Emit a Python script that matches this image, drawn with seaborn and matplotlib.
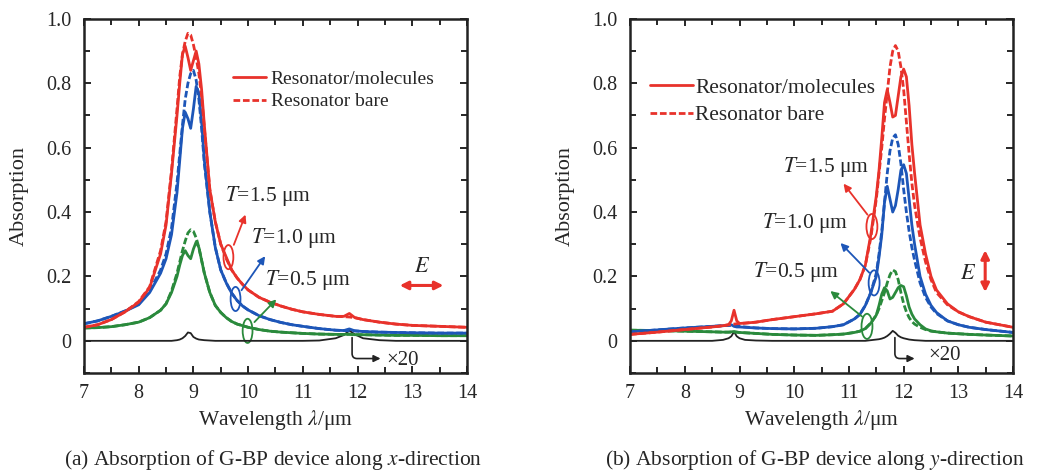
#!/usr/bin/env python3
"""Absorption spectra of the G-BP device along x and y directions (two panels)."""
import matplotlib
matplotlib.use("Agg")
import matplotlib.pyplot as plt
import seaborn as sns
from matplotlib.lines import Line2D
from matplotlib.patches import Ellipse
from matplotlib.ticker import MultipleLocator

# ---- panel (a): x-direction -------------------------------------------------
wl_a = [7.0, 7.25, 7.5, 7.75, 8.0, 8.2, 8.4, 8.5, 8.6, 8.7, 8.75, 8.8, 8.85, 8.9,
        8.95, 9.0, 9.05, 9.1, 9.15, 9.2, 9.3, 9.4, 9.5, 9.6, 9.7, 9.8, 9.9, 10.0,
        10.2, 10.4, 10.6, 10.8, 11.0, 11.3, 11.6, 11.75, 11.85, 11.95, 12.1, 12.4,
        12.7, 13.0, 13.5, 14.0]
red_mol_a = [0.042, 0.050, 0.066, 0.090, 0.120, 0.165, 0.27, 0.36, 0.52, 0.70, 0.80, 0.89,
             0.915, 0.88, 0.84, 0.87, 0.90, 0.86, 0.78, 0.67, 0.47, 0.37, 0.30, 0.26, 0.22,
             0.195, 0.175, 0.158, 0.135, 0.12, 0.108, 0.098, 0.09, 0.082, 0.076, 0.076,
             0.085, 0.072, 0.066, 0.058, 0.052, 0.048, 0.045, 0.042]
red_bare_a = [0.042, 0.050, 0.066, 0.090, 0.122, 0.168, 0.28, 0.37, 0.53, 0.72, 0.82, 0.89,
              0.93, 0.955, 0.95, 0.92, 0.88, 0.83, 0.76, 0.66, 0.47, 0.37, 0.30, 0.255, 0.22,
              0.195, 0.175, 0.158, 0.135, 0.12, 0.108, 0.098, 0.09, 0.082, 0.076, 0.075,
              0.074, 0.072, 0.066, 0.058, 0.052, 0.048, 0.045, 0.042]
blue_mol_a = [0.053, 0.062, 0.076, 0.092, 0.112, 0.15, 0.21, 0.255, 0.33, 0.46, 0.56, 0.66,
              0.71, 0.69, 0.66, 0.72, 0.79, 0.77, 0.68, 0.56, 0.40, 0.29, 0.22, 0.18, 0.148,
              0.125, 0.108, 0.096, 0.078, 0.066, 0.057, 0.05, 0.045, 0.038, 0.033, 0.032,
              0.037, 0.031, 0.029, 0.027, 0.026, 0.025, 0.024, 0.024]
blue_bare_a = [0.053, 0.062, 0.076, 0.093, 0.114, 0.155, 0.22, 0.27, 0.35, 0.49, 0.58, 0.67,
               0.75, 0.80, 0.83, 0.84, 0.81, 0.75, 0.66, 0.55, 0.40, 0.29, 0.22, 0.18, 0.148,
               0.125, 0.108, 0.096, 0.078, 0.066, 0.057, 0.05, 0.045, 0.038, 0.033, 0.032,
               0.031, 0.031, 0.029, 0.027, 0.026, 0.025, 0.024, 0.024]
green_mol_a = [0.04, 0.041, 0.044, 0.05, 0.058, 0.072, 0.095, 0.115, 0.15, 0.2, 0.235, 0.265,
               0.28, 0.265, 0.255, 0.285, 0.307, 0.29, 0.25, 0.21, 0.15, 0.11, 0.088, 0.072,
               0.06, 0.052, 0.047, 0.042, 0.035, 0.03, 0.027, 0.025, 0.023, 0.021, 0.02, 0.02,
               0.021, 0.019, 0.019, 0.018, 0.017, 0.017, 0.016, 0.016]
green_bare_a = [0.04, 0.041, 0.044, 0.05, 0.058, 0.072, 0.095, 0.115, 0.155, 0.21, 0.245, 0.28,
                0.31, 0.335, 0.345, 0.34, 0.32, 0.29, 0.25, 0.21, 0.15, 0.11, 0.088, 0.072,
                0.06, 0.052, 0.047, 0.042, 0.035, 0.03, 0.027, 0.025, 0.023, 0.021, 0.02, 0.02,
                0.02, 0.019, 0.019, 0.018, 0.017, 0.017, 0.016, 0.016]
mol_x20_a = [0, 0, 0, 0, 0, 0, 0, 0, 0, 0.002, 0.004, 0.008, 0.015, 0.026, 0.024, 0.012,
             0.007, 0.004, 0.003, 0.002, 0.001, 0, 0, 0, 0, 0, 0, 0, 0, 0, 0, 0, 0, 0.001,
             0.008, 0.018, 0.032, 0.02, 0.008, 0.002, 0, 0, 0, 0]

# ---- panel (b): y-direction -------------------------------------------------
wl_b = [7.0, 7.5, 8.0, 8.5, 8.7, 8.8, 8.85, 8.9, 8.95, 9.0, 9.1, 9.3, 9.6, 10.0, 10.4,
        10.7, 10.9, 11.1, 11.2, 11.3, 11.4, 11.5, 11.55, 11.6, 11.65, 11.7, 11.75, 11.8,
        11.85, 11.9, 11.95, 12.0, 12.05, 12.1, 12.15, 12.2, 12.3, 12.4, 12.5, 12.6, 12.8,
        13.0, 13.2, 13.5, 14.0]
red_mol_b = [0.02, 0.027, 0.035, 0.043, 0.047, 0.05, 0.062, 0.095, 0.062, 0.054, 0.055,
             0.058, 0.066, 0.075, 0.084, 0.092, 0.115, 0.16, 0.19, 0.235, 0.33, 0.45, 0.53,
             0.63, 0.74, 0.78, 0.74, 0.695, 0.70, 0.76, 0.82, 0.844, 0.82, 0.73, 0.61, 0.52,
             0.36, 0.27, 0.2, 0.158, 0.115, 0.09, 0.075, 0.058, 0.042]
red_bare_b = [0.02, 0.027, 0.035, 0.043, 0.047, 0.05, 0.051, 0.052, 0.053, 0.054, 0.055,
              0.058, 0.066, 0.075, 0.084, 0.092, 0.115, 0.16, 0.19, 0.235, 0.32, 0.44, 0.52,
              0.60, 0.69, 0.77, 0.85, 0.90, 0.917, 0.90, 0.85, 0.78, 0.68, 0.58, 0.49, 0.42,
              0.32, 0.245, 0.19, 0.15, 0.112, 0.09, 0.075, 0.058, 0.042]
blue_mol_b = [0.028, 0.034, 0.04, 0.045, 0.047, 0.048, 0.05, 0.045, 0.043, 0.043, 0.042,
              0.04, 0.038, 0.037, 0.039, 0.044, 0.05, 0.068, 0.082, 0.11, 0.15, 0.2, 0.26,
              0.33, 0.43, 0.48, 0.44, 0.40, 0.42, 0.47, 0.53, 0.547, 0.52, 0.44, 0.36, 0.3,
              0.2, 0.145, 0.11, 0.088, 0.062, 0.05, 0.042, 0.035, 0.026]
blue_bare_b = [0.028, 0.034, 0.04, 0.045, 0.047, 0.048, 0.048, 0.047, 0.046, 0.045, 0.043,
               0.04, 0.038, 0.037, 0.039, 0.044, 0.05, 0.068, 0.082, 0.11, 0.15, 0.21, 0.27,
               0.34, 0.43, 0.52, 0.59, 0.63, 0.64, 0.61, 0.55, 0.47, 0.40, 0.34, 0.29, 0.25,
               0.18, 0.135, 0.105, 0.085, 0.062, 0.05, 0.042, 0.035, 0.026]
green_mol_b = [0.033, 0.032, 0.03, 0.028, 0.027, 0.027, 0.028, 0.029, 0.027, 0.026, 0.025,
               0.023, 0.02, 0.018, 0.017, 0.019, 0.021, 0.026, 0.03, 0.038, 0.055, 0.08, 0.11,
               0.145, 0.165, 0.155, 0.13, 0.135, 0.15, 0.165, 0.172, 0.168, 0.14, 0.105, 0.083,
               0.068, 0.05, 0.037, 0.031, 0.028, 0.024, 0.022, 0.02, 0.018, 0.015]
green_bare_b = [0.033, 0.032, 0.03, 0.028, 0.027, 0.027, 0.027, 0.027, 0.027, 0.026, 0.025,
                0.023, 0.02, 0.018, 0.017, 0.019, 0.021, 0.026, 0.03, 0.038, 0.055, 0.08, 0.1,
                0.125, 0.15, 0.18, 0.205, 0.22, 0.215, 0.19, 0.15, 0.115, 0.09, 0.072, 0.06,
                0.052, 0.042, 0.035, 0.03, 0.028, 0.024, 0.022, 0.02, 0.018, 0.015]
mol_x20_b = [0, 0, 0, 0, 0.003, 0.008, 0.014, 0.028, 0.014, 0.008, 0.003, 0.001, 0, 0, 0,
             0, 0, 0, 0, 0, 0.002, 0.004, 0.005, 0.007, 0.01, 0.015, 0.022, 0.031, 0.025,
             0.016, 0.011, 0.008, 0.006, 0.004, 0.003, 0.002, 0.001, 0, 0, 0, 0, 0, 0, 0, 0]

RED = "#e8322b"
BLUE = "#1d56b8"
GREEN = "#2a8a3c"
INK = "#222222"
DASH = (0, (2.4, 1.0))
SERIF = "Liberation Serif"


def draw_curves(ax, wl, series):
    for vals, color, ls, lw in series:
        sns.lineplot(x=wl, y=vals, ax=ax, color=color, linestyle=ls, linewidth=lw,
                     estimator=None, sort=False, legend=False)


def style_axes(ax):
    ax.set_xlim(7, 14)
    ax.set_ylim(-0.1, 1.0)
    ax.xaxis.set_major_locator(MultipleLocator(1))
    ax.xaxis.set_minor_locator(MultipleLocator(0.5))
    ax.yaxis.set_minor_locator(MultipleLocator(0.1))
    ax.set_yticks([0, 0.2, 0.4, 0.6, 0.8, 1.0])
    ax.set_yticklabels(["0", "0.2", "0.4", "0.6", "0.8", "1.0"])
    ax.tick_params(which="both", direction="in", top=True, right=True, width=1.4,
                   labelsize=14.5)
    ax.tick_params(axis="x", pad=8)
    ax.tick_params(axis="y", pad=9)
    ax.tick_params(which="major", length=5)
    ax.tick_params(which="minor", length=4)
    for sp in ax.spines.values():
        sp.set_linewidth(1.8)
        sp.set_color(INK)
    ax.set_xlabel("Wavelength $\\lambda$/μm", fontsize=15.5)
    ax.set_ylabel("Absorption", fontsize=16)
    ax.xaxis.set_label_coords(0.5, -0.1)
    ax.yaxis.set_label_coords(-0.145, 0.5)


def annotate(ax, label, txt_xy, tail, head, ell_xy, ell_wh, color):
    ax.add_patch(Ellipse(ell_xy, ell_wh[0], ell_wh[1], fill=False, edgecolor=color, lw=1.3))
    ax.annotate("", xy=head, xytext=tail,
                arrowprops=dict(arrowstyle="-|>", color=color, lw=1.3, mutation_scale=11))
    ax.text(txt_xy[0], txt_xy[1], label, fontsize=15.5, ha="left", va="center")


def times20(ax, start, end, txt_xy):
    ax.annotate("", xy=end, xytext=start,
                arrowprops=dict(arrowstyle="-|>", color=INK, lw=1.2, mutation_scale=10,
                                shrinkA=0, shrinkB=0,
                                connectionstyle="angle,angleA=90,angleB=0,rad=5"))
    ax.text(txt_xy[0], txt_xy[1], "×20", fontsize=15, ha="left", va="center")


def main():
    sns.set_style("ticks")
    plt.rcParams["font.family"] = [SERIF, "DejaVu Serif"]
    plt.rcParams["mathtext.fontset"] = "stix"

    fig = plt.figure(figsize=(10.38, 4.71), dpi=100)
    ax_a = fig.add_axes([0.0809, 0.208, 0.369, 0.752])
    ax_b = fig.add_axes([0.607, 0.208, 0.369, 0.752])

    draw_curves(ax_a, wl_a, [
        (mol_x20_a, INK, "-", 1.3),
        (green_bare_a, GREEN, DASH, 2.0), (green_mol_a, GREEN, "-", 2.0),
        (blue_bare_a, BLUE, DASH, 2.0), (blue_mol_a, BLUE, "-", 2.0),
        (red_bare_a, RED, DASH, 2.0), (red_mol_a, RED, "-", 2.0),
    ])
    draw_curves(ax_b, wl_b, [
        (mol_x20_b, INK, "-", 1.3),
        (green_bare_b, GREEN, DASH, 2.0), (green_mol_b, GREEN, "-", 2.0),
        (blue_bare_b, BLUE, DASH, 2.0), (blue_mol_b, BLUE, "-", 2.0),
        (red_bare_b, RED, DASH, 2.0), (red_mol_b, RED, "-", 2.0),
    ])
    for ax in (ax_a, ax_b):
        style_axes(ax)

    handles = [Line2D([], [], color=RED, lw=2.0),
               Line2D([], [], color=RED, lw=2.0, linestyle=DASH)]
    labels = ["Resonator/molecules", "Resonator bare"]
    ax_a.legend(handles, labels, loc="center left", bbox_to_anchor=(0.389, 0.798),
                frameon=False, fontsize=14, handlelength=1.7, handletextpad=0.25,
                labelspacing=0.25, borderpad=0, borderaxespad=0)
    ax_b.legend(handles, labels, loc="center left", bbox_to_anchor=(0.052, 0.766),
                frameon=False, fontsize=15.4, handlelength=2.0, handletextpad=0.12,
                labelspacing=0.35, borderpad=0, borderaxespad=0)

    # panel (a) annotations
    annotate(ax_a, "$T$=1.5 μm", (9.58, 0.45), (9.72, 0.29), (9.97, 0.40),
             (9.64, 0.26), (0.18, 0.075), RED)
    annotate(ax_a, "$T$=1.0 μm", (10.06, 0.318), (9.85, 0.15), (10.34, 0.27),
             (9.77, 0.13), (0.18, 0.075), BLUE)
    annotate(ax_a, "$T$=0.5 μm", (10.31, 0.19), (10.08, 0.052), (10.55, 0.135),
             (9.99, 0.031), (0.18, 0.075), GREEN)
    ax_a.text(13.17, 0.227, "$E$", fontsize=16, ha="center", va="center")
    ax_a.annotate("", xy=(13.62, 0.172), xytext=(12.72, 0.172),
                  arrowprops=dict(arrowstyle="<|-|>", color=RED, lw=2.2, mutation_scale=12))
    times20(ax_a, (11.9, 0.01), (12.42, -0.055), (12.52, -0.06))

    # panel (b) annotations
    annotate(ax_b, "$T$=1.5 μm", (9.8, 0.54), (11.37, 0.385), (10.87, 0.495),
             (11.42, 0.355), (0.2, 0.078), RED)
    annotate(ax_b, "$T$=1.0 μm", (9.41, 0.367), (11.41, 0.205), (10.81, 0.31),
             (11.46, 0.18), (0.2, 0.078), BLUE)
    annotate(ax_b, "$T$=0.5 μm", (9.25, 0.213), (11.28, 0.07), (10.62, 0.16),
             (11.33, 0.045), (0.2, 0.078), GREEN)
    ax_b.text(13.18, 0.206, "$E$", fontsize=16, ha="center", va="center")
    ax_b.annotate("", xy=(13.49, 0.29), xytext=(13.49, 0.143),
                  arrowprops=dict(arrowstyle="<|-|>", color=RED, lw=2.2, mutation_scale=12))
    times20(ax_b, (11.84, 0.01), (12.2, -0.055), (12.45, -0.045))

    fig.text(0.263, 1 - 460 / 471, "(a) Absorption of G-BP device along $x$-direction",
             fontsize=15.5, ha="center", va="center")
    fig.text(0.785, 1 - 460 / 471, "(b) Absorption of G-BP device along $y$-direction",
             fontsize=15.5, ha="center", va="center")

    fig.savefig("out.png", dpi=100)
    plt.close(fig)


if __name__ == "__main__":
    main()
